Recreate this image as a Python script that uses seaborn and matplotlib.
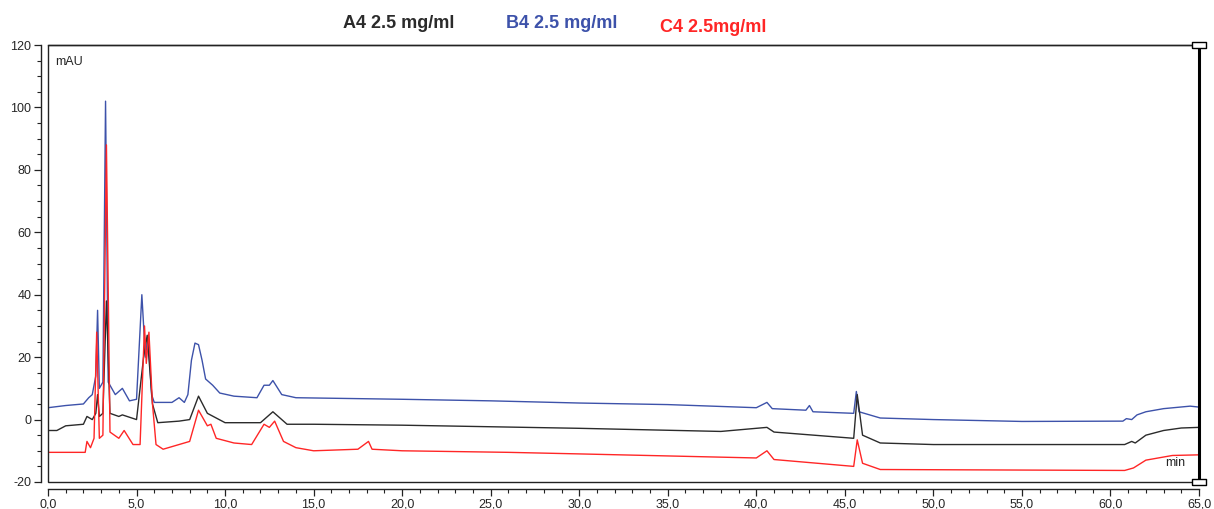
import pandas as pd
import numpy as np
import seaborn as sns
import matplotlib.pyplot as plt
from matplotlib.ticker import MultipleLocator, FuncFormatter
from matplotlib.patches import Rectangle

t_b4 = [0, 1, 2, 2.3, 2.5, 2.7, 2.8, 2.9, 3.1, 3.25, 3.4, 3.8, 4.2, 4.6, 5.0, 5.3, 5.5,
        5.65, 5.85, 6.0, 7.0, 7.4, 7.7, 7.9, 8.1, 8.3, 8.5, 8.7, 8.9, 9.3, 9.7, 10.5,
        11.8, 12.2, 12.5, 12.7, 13.2, 14, 20, 25, 30, 35, 40, 40.6, 40.9, 42.8, 43.0,
        43.2, 45.5, 45.65, 45.8, 47, 50, 55, 60.7, 60.9, 61.2, 61.5, 62, 63, 64.5, 65]
b4 = [3.8, 4.5, 5, 7, 8, 14, 35, 10, 12, 102, 12, 8, 10, 6, 6.5, 40, 20,
      27, 8, 5.5, 5.5, 7, 5.5, 8, 19, 24.5, 24, 19, 13, 11, 8.5, 7.5,
      7, 11, 11, 12.5, 8, 7, 6.5, 6, 5.3, 4.8, 3.8, 5.5, 3.5, 3, 4.5,
      2.5, 2, 9, 2.5, 0.5, 0, -0.6, -0.5, 0.3, 0, 1.5, 2.5, 3.5, 4.3, 4]

t_a4 = [0, 0.5, 1, 2, 2.2, 2.5, 2.7, 2.8, 2.9, 3.1, 3.3, 3.5, 4.0, 4.2, 5.0, 5.4, 5.6,
        5.9, 6.2, 7.4, 8.0, 8.5, 9.0, 10, 12, 12.7, 13.5, 15, 20, 30, 38, 40.6, 41,
        45.5, 45.7, 46, 47, 50, 60.8, 61.2, 61.4, 62, 63, 64, 65]
a4 = [-3.5, -3.5, -2, -1.5, 1, 0, 2, 8, 1, 2, 38, 2, 1, 1.5, 0, 20, 27,
      5, -1, -0.5, 0, 7.5, 2, -1, -1, 2.5, -1.5, -1.5, -1.8, -2.8, -3.8, -2.5, -4,
      -6, 8, -5, -7.5, -8, -8, -7, -7.5, -5, -3.5, -2.7, -2.5]

t_c4 = [0, 2.1, 2.2, 2.4, 2.6, 2.75, 2.9, 3.1, 3.3, 3.5, 4.0, 4.3, 4.8, 5.2, 5.45, 5.55,
        5.7, 5.9, 6.1, 6.5, 7.4, 8.0, 8.5, 9.0, 9.2, 9.5, 10.5, 11.5, 12.2, 12.5, 12.8,
        13.3, 14, 15, 17.5, 18.1, 18.3, 20, 26, 30, 40, 40.6, 41, 45.5, 45.7, 46, 47,
        60.8, 61.3, 62, 63.5, 65]
c4 = [-10.5, -10.5, -7, -9, -6, 28, -6, -5, 88, -4, -6, -3.5, -8, -8, 30, 18,
      28, 5, -8, -9.5, -8, -7, 3, -2, -1.5, -6, -7.5, -8, -1.5, -2.5, -0.5,
      -7, -9, -10, -9.5, -7, -9.5, -10, -10.5, -11, -12.3, -10, -12.8, -15, -6.5, -14, -16,
      -16.3, -15.5, -13, -11.5, -11.3]

muestras = ['A4 2.5 mg/ml', 'B4 2.5 mg/ml', 'C4 2.5mg/ml']
colores = {'A4 2.5 mg/ml': '#2b2b2b', 'B4 2.5 mg/ml': '#3d52aa', 'C4 2.5mg/ml': '#ff2626'}

df = pd.concat([
    pd.DataFrame({'min': t_a4, 'mAU': a4, 'muestra': muestras[0]}),
    pd.DataFrame({'min': t_b4, 'mAU': b4, 'muestra': muestras[1]}),
    pd.DataFrame({'min': t_c4, 'mAU': c4, 'muestra': muestras[2]}),
], ignore_index=True)

sns.set_style("ticks")
plt.rcParams['font.family'] = ['Liberation Sans', 'DejaVu Sans']

fig = plt.figure(figsize=(12.14, 5.09), dpi=100)
ax = fig.add_axes([48 / 1214, 1 - 482 / 509, (1199 - 48) / 1214, (482 - 45) / 509])

# orden de dibujo: azul, negro, rojo
for m in [muestras[1], muestras[0], muestras[2]]:
    sns.lineplot(data=df[df['muestra'] == m], x='min', y='mAU', color=colores[m],
                 lw=1.0, estimator=None, sort=False, ax=ax, legend=False)

ax.set_xlim(0, 65)
ax.set_ylim(-20, 120)
ax.set_xlabel('')
ax.set_ylabel('')

ax.xaxis.set_major_locator(MultipleLocator(5))
ax.xaxis.set_minor_locator(MultipleLocator(1))
ax.yaxis.set_major_locator(MultipleLocator(20))
ax.yaxis.set_minor_locator(MultipleLocator(5))
ax.xaxis.set_major_formatter(FuncFormatter(lambda v, p: f"{v:.1f}".replace('.', ',')))
ax.yaxis.set_major_formatter(FuncFormatter(lambda v, p: f"{v:.0f}"))
ax.tick_params(axis='both', which='major', length=5, width=0.9, labelsize=9, color='#222')
ax.tick_params(axis='both', which='minor', length=3, width=0.8, color='#222')
ax.tick_params(axis='x', pad=2)
ax.tick_params(axis='y', pad=2)

# ejes desplazados + marco interior
ax.spines['left'].set_position(('outward', 5))
ax.spines['bottom'].set_position(('outward', 5))
for s in ['left', 'bottom', 'top']:
    ax.spines[s].set_linewidth(1.0)
    ax.spines[s].set_color('#222')
ax.spines['right'].set_visible(False)
ax.add_patch(Rectangle((0, 0), 1, 1, transform=ax.transAxes, fill=False,
                       lw=1.0, ec='#222', clip_on=False, zorder=5))

# cursor vertical en 65 min
ax.plot([1, 1], [0, 1], transform=ax.transAxes, color='black', lw=2.2,
        clip_on=False, zorder=6)
caja = [(-1, -0.45), (1, -0.45), (1, 0.45), (-1, 0.45), (-1, -0.45)]
for yy in (0, 1):
    ax.plot([1], [yy], transform=ax.transAxes, marker=caja, ms=10, mfc='white',
            mec='black', mew=1.0, clip_on=False, zorder=7)

ax.text(0.006, 0.975, 'mAU', transform=ax.transAxes, fontsize=9, va='top', ha='left')
ax.text(0.988, 0.03, 'min', transform=ax.transAxes, fontsize=9, va='bottom', ha='right')

# rótulos de las muestras
fig.text(399 / 1214, 1 - 24 / 509, muestras[0], color=colores[muestras[0]],
         fontsize=13, fontweight='bold', ha='center', va='center')
fig.text(562 / 1214, 1 - 23 / 509, muestras[1], color=colores[muestras[1]],
         fontsize=13, fontweight='bold', ha='center', va='center')
fig.text(713 / 1214, 1 - 27 / 509, muestras[2], color=colores[muestras[2]],
         fontsize=13, fontweight='bold', ha='center', va='center')

fig.savefig('out.png', dpi=100)
